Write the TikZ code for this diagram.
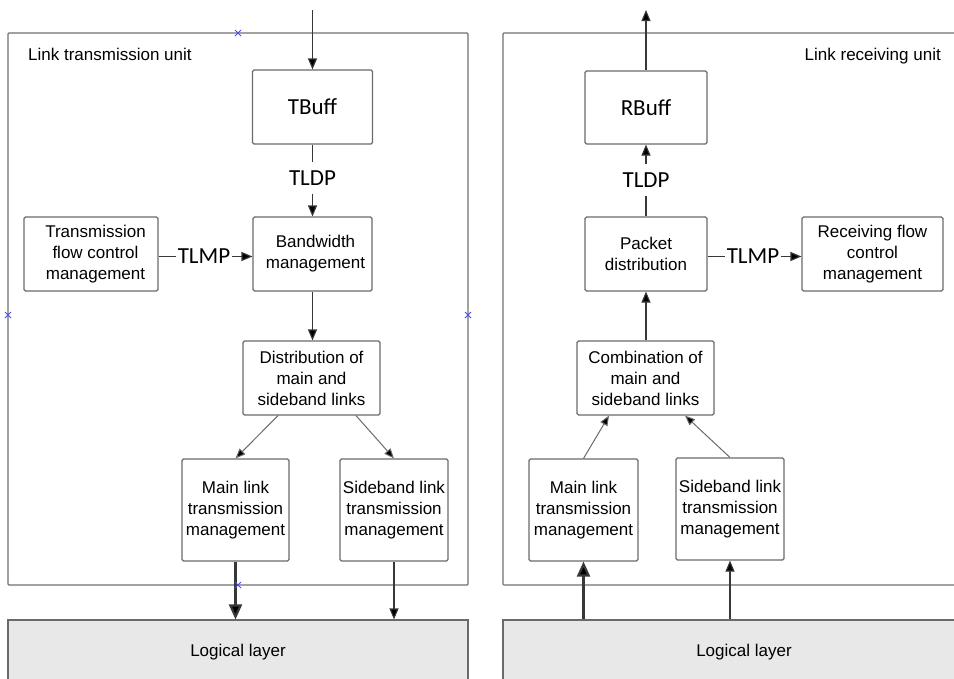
\documentclass[tikz,border=0pt]{standalone}
\usepackage{fontspec}
\setmainfont{Liberation Sans}
\newfontfamily\tagfont{Carlito}
\usetikzlibrary{arrows.meta,calc}

\definecolor{boxgray}{HTML}{6A6A6A}
\definecolor{framegray}{HTML}{707070}
\definecolor{wiregray}{HTML}{383838}
\definecolor{layergray}{HTML}{E8E8E8}
\definecolor{handleblue}{HTML}{4A4AF0}

\begin{document}
\begin{tikzpicture}[x=1pt,y=-1pt,
  box/.style={draw=boxgray, line width=1.1pt, rounded corners=1.5pt, fill=white,
    align=center, inner sep=0pt, font=\fontsize{17}{21}\selectfont},
  buffbox/.style={box, font=\tagfont\fontsize{23}{27}\selectfont},
  frame/.style={draw=framegray, line width=1.1pt, rounded corners=1pt, inner sep=0pt},
  layer/.style={draw=boxgray, line width=1.1pt, fill=layergray, inner sep=0pt,
    font=\fontsize{17}{21}\selectfont},
  unitlabel/.style={inner sep=0pt, font=\fontsize{17}{21}\selectfont},
  tag/.style={inner xsep=1.5pt, inner ysep=0pt, font=\tagfont\fontsize{23}{27}\selectfont},
  vtag/.style={inner xsep=1pt, inner ysep=8pt, font=\tagfont\fontsize{23}{27}\selectfont},
  wire/.style={draw=wiregray, line width=1.1pt},
  arr/.style={wire, -{Triangle[length=11pt,width=9pt,fill=black]}},
  slant/.style={draw=boxgray, line width=1pt, -{Triangle[length=10pt,width=8pt,fill=black]}},
  bigarr/.style={draw=wiregray, line width=2.2pt, -{Triangle[length=15pt,width=13pt,fill=black]}},
  handle/.style={draw=handleblue, line width=0.8pt}
]
\useasboundingbox (0,0) rectangle (954,678);
\clip (0,0) rectangle (954,678);

% ---------- unit frames ----------
\node[frame, minimum width=460, minimum height=552] (txunit) at (238,309) {};
\node[frame, minimum width=480, minimum height=552] (rxunit) at (743,309) {};
\node[unitlabel, anchor=base west] (txlabel) at (28,60) {Link transmission unit};
\node[unitlabel, anchor=base east] (rxlabel) at (941,60) {Link receiving unit};

% ---------- logical layers ----------
\node[layer, minimum width=460, minimum height=64] (txlayer) at (238,652) {Logical layer};
\node[layer, minimum width=482, minimum height=64] (rxlayer) at (744,652) {Logical layer};

% ---------- transmission side ----------
\node[buffbox, minimum width=120, minimum height=74] (tbuff) at (312.5,107) {TBuff};
\node[box, minimum width=119, minimum height=74] (bw) at (312.5,254) {\hspace*{6pt}Bandwidth\\\hspace*{6pt}management};
\node[box, minimum width=134, minimum height=74] (tfc) at (91,254) {\hspace*{9pt}Transmission\\\hspace*{9pt}flow control\\\hspace*{9pt}management};
\node[box, minimum width=137, minimum height=74] (dist) at (311.5,378) {Distribution of\\main and\\sideband links};
\node[box, minimum width=107, minimum height=102] (tmain) at (235.5,510) {Main link\\transmission\\management};
\node[box, minimum width=108, minimum height=102] (tside) at (394,510) {Sideband link\\transmission\\management};

\coordinate (txin) at (312.5,10);
\node[vtag] (tldp1) at (312.5,178) {TLDP};
\node[tag] (tlmp1) at (204,256.5) {TLMP};

\draw[arr] (txin) -- (tbuff);
\draw[wire] (tbuff) -- (tldp1);
\draw[arr] (tldp1) -- (bw);
\draw[wire] (tfc.east |- tlmp1.west) -- (tlmp1.west);
\draw[arr] (tlmp1.east) -- (bw.west |- tlmp1.east);
\draw[arr] (bw) -- (bw |- dist.north);
\draw[slant] ($(dist.south)+(-33.5,0)$) -- (tmain.north);
\draw[slant] ($(dist.south)+(44.5,0)$) -- (tside.north);
\draw[bigarr] (tmain) -- (tmain |- txlayer.north);
\draw[arr] (tside) -- (tside |- txlayer.north);

% ---------- receiving side ----------
\node[buffbox, minimum width=122, minimum height=73] (rbuff) at (646,107.5) {RBuff};
\node[box, minimum width=122, minimum height=74] (pkt) at (646,254) {Packet\\distribution};
\node[box, minimum width=141, minimum height=74] (rfc) at (872.5,254) {Receiving flow\\control\\management};
\node[box, minimum width=137, minimum height=74] (comb) at (645.5,378) {Combination of\\main and\\sideband links};
\node[box, minimum width=109, minimum height=102] (rmain) at (583.5,510) {Main link\\transmission\\management};
\node[box, minimum width=108, minimum height=102] (rside) at (730,509) {Sideband link\\transmission\\management};

\coordinate (rxout) at (646,10);
\node[vtag] (tldp2) at (646,180) {TLDP};
\node[tag] (tlmp2) at (753,256.5) {TLMP};

\draw[arr] (rbuff) -- (rxout);
\draw[arr] (tldp2) -- (rbuff);
\draw[wire] (pkt) -- (tldp2);
\draw[wire] (pkt.east |- tlmp2.west) -- (tlmp2.west);
\draw[arr] (tlmp2.east) -- (rfc.west |- tlmp2.east);
\draw[arr] (pkt |- comb.north) -- (pkt);
\draw[slant] (rmain.north) -- ($(comb.south)+(-36.5,0)$);
\draw[slant] (rside.north) -- ($(comb.south)+(39.5,0)$);
\draw[bigarr] (rmain |- rxlayer.north) -- (rmain);
\draw[arr] (rside |- rxlayer.north) -- (rside);

% ---------- selection handles on the transmission frame ----------
\foreach \p in {(238,33),(8,315),(468,315),(238,585)}{
  \draw[handle] \p +(-3,-3) -- +(3,3) \p +(-3,3) -- +(3,-3);
}
\end{tikzpicture}
\end{document}
